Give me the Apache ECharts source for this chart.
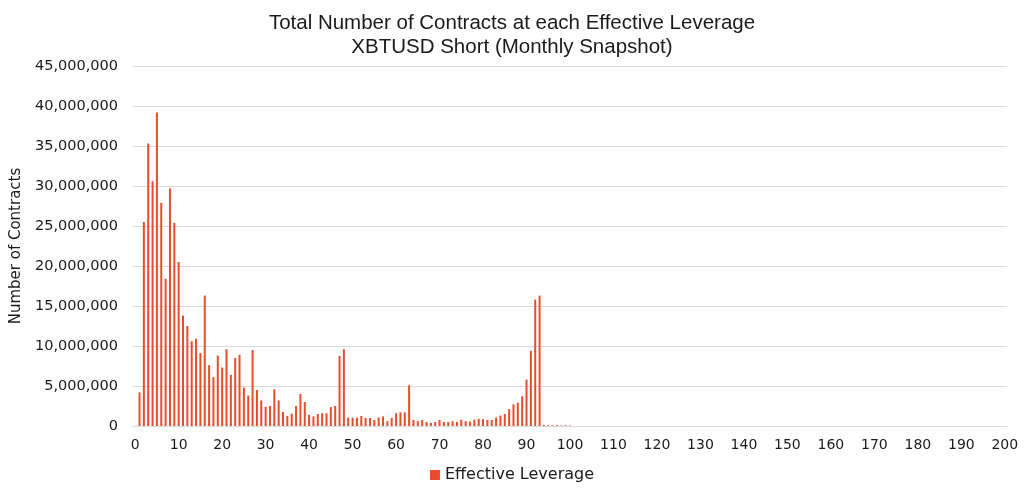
<!DOCTYPE html>
<html>
<head>
<meta charset="utf-8">
<script src="https://cdn.jsdelivr.net/npm/echarts@6/dist/echarts.min.js"></script>
<style>
html,body{margin:0;padding:0;background:#fff;}
#chart{width:1024px;height:490px;}
</style>
</head>
<body>
<div id="chart"></div>
<script>
// Axis domain: effective leverage 0..200, labelled every 10
const leverageMin = 0;
const leverageMax = 200;
const xTickLabels = [0,10,20,30,40,50,60,70,80,90,100,110,120,130,140,150,160,170,180,190,200];
const yTickLabels = [0,5000000,10000000,15000000,20000000,25000000,30000000,35000000,40000000,45000000];

// Number of contracts (millions) for leverage 1, 2, 3, ...
const contractsMillions = [
  4.2, 25.5, 35.3, 30.6, 39.2, 27.9, 18.4, 29.7, 25.4, 20.5,
  13.8, 12.5, 10.6, 10.9, 9.1, 16.3, 7.6, 6.1, 8.8, 7.3,
  9.6, 6.4, 8.5, 8.9, 4.8, 3.8, 9.5, 4.5, 3.2, 2.4,
  2.5, 4.6, 3.2, 1.75, 1.25, 1.55, 2.5, 4.0, 3.0, 1.4,
  1.2, 1.5, 1.6, 1.6, 2.35, 2.5, 8.75, 9.6, 1.05, 1.05,
  1.05, 1.25, 1.0, 1.0, 0.75, 1.05, 1.2, 0.6, 1.0, 1.6,
  1.7, 1.7, 5.1, 0.75, 0.6, 0.75, 0.5, 0.4, 0.5, 0.75,
  0.5, 0.5, 0.6, 0.5, 0.8, 0.6, 0.55, 0.8, 0.9, 0.85,
  0.75, 0.75, 1.05, 1.3, 1.5, 2.1, 2.7, 2.9, 3.7, 5.8,
  9.4, 15.8, 16.3, 0.12, 0.1, 0.08, 0.1, 0.06, 0.08, 0.05
];
const firstLeverage = 1;

const categories = [];
for (let v = leverageMin; v <= leverageMax; v++) categories.push(String(v));
const seriesData = categories.map(c => {
  const i = Number(c) - firstLeverage;
  return (i >= 0 && i < contractsMillions.length) ? contractsMillions[i] * 1e6 : null;
});

const fmt = v => String(v).replace(/\B(?=(\d{3})+(?!\d))/g, ',');
const labelSet = new Set(xTickLabels.map(String));

const chart = echarts.init(document.getElementById('chart'));
chart.setOption({
  animation: false,
  backgroundColor: '#ffffff',
  title: {
    text: 'Total Number of Contracts at each Effective Leverage\nXBTUSD Short (Monthly Snapshot)',
    left: 'center',
    top: 6,
    textStyle: {
      fontFamily: 'Liberation Sans, Arial, sans-serif',
      fontSize: 20.5,
      fontWeight: 'normal',
      color: '#1a1a1a',
      lineHeight: 24
    }
  },
  legend: {
    data: ['Effective Leverage'],
    left: 'center',
    top: 462,
    icon: 'rect',
    itemWidth: 10,
    itemHeight: 10,
    itemGap: 6,
    textStyle: {
      fontFamily: 'DejaVu Sans, Verdana, sans-serif',
      fontSize: 16,
      color: '#1a1a1a'
    }
  },
  grid: {
    left: 133,
    right: 17,
    top: 66,
    bottom: 64,
    containLabel: false,
    outerBoundsMode: 'none'
  },
  xAxis: {
    type: 'category',
    data: categories,
    boundaryGap: true,
    axisLine: { show: true, lineStyle: { color: '#d9d9d9', width: 1 } },
    axisTick: { show: false },
    axisLabel: {
      interval: 0,
      formatter: v => labelSet.has(v) ? v : '',
      fontFamily: 'DejaVu Sans, Verdana, sans-serif',
      fontSize: 14,
      color: '#1a1a1a',
      margin: 12
    },
    splitLine: { show: false }
  },
  yAxis: {
    type: 'value',
    min: yTickLabels[0],
    max: yTickLabels[yTickLabels.length - 1],
    interval: yTickLabels[1] - yTickLabels[0],
    name: 'Number of Contracts',
    nameLocation: 'middle',
    nameGap: 106,
    nameTextStyle: {
      fontFamily: 'DejaVu Sans, Verdana, sans-serif',
      fontSize: 15,
      color: '#1a1a1a'
    },
    axisLine: { show: false },
    axisTick: { show: false },
    axisLabel: {
      formatter: fmt,
      fontFamily: 'DejaVu Sans, Verdana, sans-serif',
      fontSize: 14.5,
      color: '#1a1a1a',
      margin: 15
    },
    splitLine: { show: true, lineStyle: { color: '#d9d9d9', width: 1 } }
  },
  series: [{
    name: 'Effective Leverage',
    type: 'bar',
    data: seriesData,
    barWidth: 2,
    itemStyle: { color: '#E84C2B' }
  }]
});
</script>
</body>
</html>
